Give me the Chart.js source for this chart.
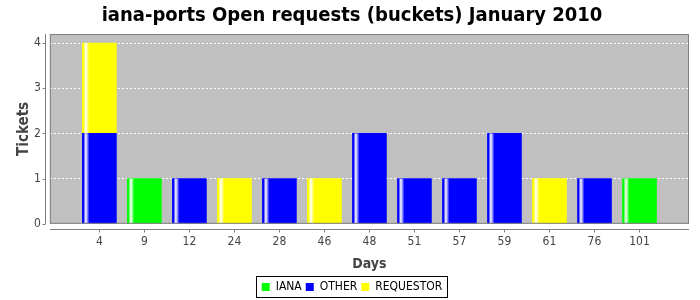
<!DOCTYPE html>
<html>
<head>
<meta charset="utf-8">
<script src="https://cdn.jsdelivr.net/npm/chart.js@4/dist/chart.umd.min.js"></script>
<style>
  html, body { margin: 0; padding: 0; background: #fff; }
  canvas { display: block; }
</style>
</head>
<body>
<canvas id="chart-ports" width="700" height="300"></canvas>
<script>
const days = ["4", "9", "12", "24", "28", "46", "48", "51", "57", "59", "61", "76", "101"];
const iana = [0, 1, 0, 0, 0, 0, 0, 0, 0, 0, 0, 0, 1];
const other = [2, 0, 1, 0, 1, 0, 2, 1, 1, 2, 0, 1, 0];
const requestor = [2, 0, 0, 1, 0, 1, 0, 0, 0, 0, 1, 0, 0];
const yTicks = [0, 1, 2, 3, 4];

const fontName = "'DejaVu Sans Condensed', 'DejaVu Sans', sans-serif";

function toPoints(values) {
    return values.map((v, i) => ({ x: i, y: v === 0 ? null : v }));
}

// plot background, borders, offset axes, bar highlight, legend frame
const jfreeLook = {
    id: "jfreeLook",
    beforeDraw(chart) {
        const { ctx, chartArea: a } = chart;
        ctx.save();
        ctx.fillStyle = "#c0c0c0";
        ctx.fillRect(a.left, a.top, a.right - a.left, a.bottom - a.top);
        ctx.restore();
    },
    afterDatasetsDraw(chart) {
        const { ctx } = chart;
        ctx.save();
        chart.data.datasets.forEach((ds, di) => {
            const meta = chart.getDatasetMeta(di);
            meta.data.forEach((bar, i) => {
                if (ds.data[i].y === null) return;
                const left = bar.x - bar.width / 2;
                const top = Math.min(bar.y, bar.base);
                const h = Math.abs(bar.base - bar.y);
                const g = ctx.createLinearGradient(left + 1, 0, left + 7, 0);
                g.addColorStop(0, "rgba(255,255,255,0)");
                g.addColorStop(0.4, "rgba(255,255,255,1)");
                g.addColorStop(1, "rgba(255,255,255,0)");
                ctx.fillStyle = g;
                ctx.fillRect(left + 1, top, 6, h);
            });
        });
        ctx.restore();
    },
    afterDraw(chart) {
        const { ctx, chartArea: a, scales } = chart;
        ctx.save();
        ctx.strokeStyle = "#808080";
        ctx.lineWidth = 1;
        ctx.strokeRect(a.left + 0.5, a.top + 0.5, a.right - a.left - 1, a.bottom - a.top - 1);
        // offset x axis
        const xy = Math.round(a.bottom) + 5.5;
        ctx.beginPath();
        ctx.moveTo(a.left, xy);
        ctx.lineTo(a.right, xy);
        days.forEach((d, i) => {
            const px = Math.round(scales.x.getPixelForValue(i)) + 0.5;
            ctx.moveTo(px, xy);
            ctx.lineTo(px, xy + 3);
        });
        // offset y axis
        const yx = Math.round(a.left) - 4.5;
        ctx.moveTo(yx, a.top);
        ctx.lineTo(yx, a.bottom);
        yTicks.forEach(t => {
            const py = Math.round(scales.y.getPixelForValue(t)) + 0.5;
            ctx.moveTo(yx, py);
            ctx.lineTo(yx - 3, py);
        });
        ctx.stroke();
        // legend frame
        const lg = chart.legend;
        if (lg && lg.legendItems) {
            let minX = Infinity, maxX = -Infinity;
            lg.legendHitBoxes.forEach(b => {
                minX = Math.min(minX, b.left);
                maxX = Math.max(maxX, b.left + b.width);
            });
            const top = lg.legendHitBoxes[0].top;
            ctx.strokeStyle = "#000";
            ctx.strokeRect(Math.round(minX) - 5.5, Math.round(top) - 4.5, Math.round(maxX - minX) + 10, 21);
        }
        ctx.restore();
    }
};

new Chart(document.getElementById("chart-ports"), {
    type: "bar",
    data: {
        datasets: [
            { label: "IANA", data: toPoints(iana), backgroundColor: "#00ff00" },
            { label: "OTHER", data: toPoints(other), backgroundColor: "#0000ff" },
            { label: "REQUESTOR", data: toPoints(requestor), backgroundColor: "#ffff00" },
        ],
    },
    options: {
        responsive: false,
        animation: false,
        barThickness: 34,
        layout: { padding: { left: 15, right: 11, top: 0, bottom: -3 } },
        scales: {
            x: {
                type: "linear",
                stacked: true,
                offset: false,
                min: -1.1,
                max: 13.1,
                afterBuildTicks: s => { s.ticks = days.map((d, i) => ({ value: i })); },
                ticks: {
                    callback: v => days[v],
                    color: "#444",
                    padding: 3,
                    font: { family: fontName, size: 12 },
                    autoSkip: false,
                    maxRotation: 0,
                },
                grid: { display: false },
                border: { display: false },
                title: {
                    display: true,
                    text: "Days",
                    color: "#444",
                    font: { family: fontName, size: 14, weight: "bold" },
                    padding: { top: 4, bottom: 4 },
                },
            },
            y: {
                stacked: true,
                min: 0,
                max: 4.2,
                afterBuildTicks: s => { s.ticks = yTicks.map(v => ({ value: v })); },
                ticks: {
                    color: "#444",
                    padding: 9,
                    font: { family: fontName, size: 12 },
                },
                grid: {
                    color: c => (c.tick && c.tick.value === 0 ? "rgba(0,0,0,0)" : "#ffffff"),
                    drawTicks: false,
                    lineWidth: 1,
                },
                border: { display: false, dash: [2, 2] },
                title: {
                    display: true,
                    text: "Tickets",
                    color: "#444",
                    font: { family: fontName, size: 15, weight: "bold" },
                    padding: { top: 0, bottom: -8 },
                },
            },
        },
        plugins: {
            title: {
                display: true,
                text: "iana-ports Open requests (buckets) January 2010",
                color: "#000",
                font: { family: fontName, size: 20, weight: "bold" },
                padding: { top: 4, bottom: 6 },
            },
            legend: {
                position: "bottom",
                labels: {
                    boxWidth: 8,
                    boxHeight: 8,
                    padding: 4,
                    color: "#000",
                    font: { family: fontName, size: 12 },
                },
            },
            tooltip: { enabled: false },
        },
    },
    plugins: [jfreeLook],
});
</script>
</body>
</html>
